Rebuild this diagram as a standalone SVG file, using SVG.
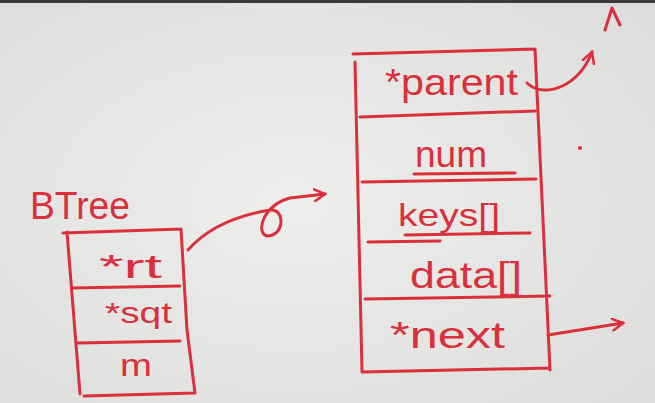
<svg xmlns="http://www.w3.org/2000/svg" width="655" height="403" viewBox="0 0 655 403">
<defs>
<radialGradient id="bg" cx="0.45" cy="0.5" r="0.75">
<stop offset="0" stop-color="#eeeeec"/>
<stop offset="1" stop-color="#dcdcda"/>
</radialGradient>
<marker id="ah" viewBox="0 0 12 12" refX="10" refY="6" markerWidth="14" markerHeight="14" markerUnits="userSpaceOnUse" orient="auto">
<path d="M1,1 L10,6 L1,11" fill="none" stroke="#d9303c" stroke-width="2.2" stroke-linecap="round"/>
</marker>
<style>
.ink{fill:none;stroke:#d9303c;stroke-width:3;stroke-linecap:round;stroke-linejoin:round}
.txt{fill:#d9303c;font-family:"Liberation Sans",Arial,sans-serif}
</style>
</defs>
<rect width="655" height="403" fill="url(#bg)"/>
<rect width="655" height="3" fill="#3a3a3a"/>
<text class="txt" x="30" y="219" font-size="38" textLength="100" lengthAdjust="spacingAndGlyphs">BTree</text>
<g id="btree">
<path class="ink" d="M63,233 L181,229 M67,232 L80,394 M181,229 L187,330 L195,393 M84,396 L195,393 M72,288 L180,286 M78,343 L180,341"/>
<text class="txt" x="99" y="278" font-size="34" textLength="63" lengthAdjust="spacingAndGlyphs">*rt</text>
<text class="txt" x="105" y="323" font-size="30" textLength="67" lengthAdjust="spacingAndGlyphs">*sqt</text>
<text class="txt" x="120" y="376" font-size="32" textLength="32" lengthAdjust="spacingAndGlyphs">m</text>
</g>
<g id="node">
<path class="ink" d="M353,54 L535,49 M355,62 L362,371 M535,49 L550,370 M362,372 L550,368 M360,117 L535,111 M362,182 L536,179 M365,299 L550,296"/>
<path class="ink" stroke-width="2.5" d="M414,174 L515,173 M368,242 L440,241 M405,235 L530,233"/>
<text class="txt" x="385" y="95" font-size="36" textLength="133" lengthAdjust="spacingAndGlyphs">*parent</text>
<text class="txt" x="415" y="167" font-size="36" textLength="72" lengthAdjust="spacingAndGlyphs">num</text>
<text class="txt" x="398" y="226" font-size="32" textLength="102" lengthAdjust="spacingAndGlyphs">keys[]</text>
<text class="txt" x="410" y="288" font-size="36" textLength="112" lengthAdjust="spacingAndGlyphs">data[]</text>
<text class="txt" x="390" y="348" font-size="36" textLength="115" lengthAdjust="spacingAndGlyphs">*next</text>
</g>
<g id="null">
<path class="ink" d="M605,30 L612,8 L620,25"/>
<circle cx="580" cy="148" r="2" fill="#d9303c"/>
</g>
<g id="connectors">
<path class="ink" marker-end="url(#ah)" d="M188,250 C210,225 240,215 270,210 C285,208 285,235 268,236 C255,235 262,205 290,198 L325,194"/>
<path class="ink" marker-end="url(#ah)" d="M527,83 C545,100 580,85 592,52"/>
<path class="ink" marker-end="url(#ah)" d="M548,335 L623,323"/>
</g>
</svg>
